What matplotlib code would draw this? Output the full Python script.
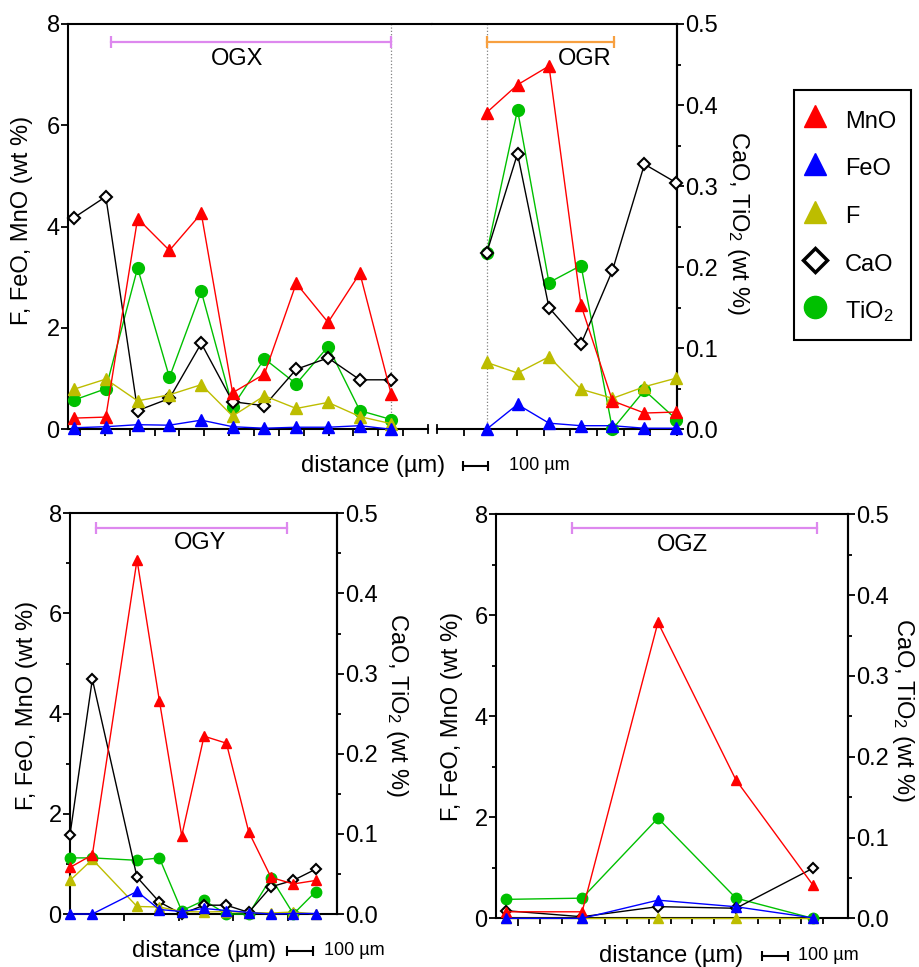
import matplotlib
matplotlib.use('Agg')
import matplotlib.pyplot as plt
from matplotlib.lines import Line2D
from matplotlib.ticker import MultipleLocator, FixedLocator, FormatStrFormatter, NullFormatter

plt.rcParams['font.family'] = ['Liberation Sans', 'DejaVu Sans']
plt.rcParams['mathtext.default'] = 'regular'
plt.rcParams['font.size'] = 17

# right axis (CaO, TiO2) 0.5 wt% sits at 8 wt% of the left axis
SCALE = 16

# ---- OGX (top panel, left part) ----
ogx_dist = [-24, 104, 232, 360, 488, 614, 742, 870, 998, 1126, 1252]
ogx_mno = [0.22, 0.24, 4.16, 3.53, 4.26, 0.72, 1.09, 2.88, 2.11, 3.08, 0.69]
ogx_feo = [0.03, 0.05, 0.09, 0.08, 0.18, 0.05, 0.02, 0.04, 0.04, 0.07, 0.0]
ogx_f = [0.79, 0.99, 0.56, 0.68, 0.88, 0.26, 0.66, 0.41, 0.53, 0.25, 0.11]
ogx_cao = [0.261, 0.287, 0.023, 0.038, 0.106, 0.034, 0.029, 0.074, 0.088, 0.061, 0.061]
ogx_tio2 = [0.036, 0.050, 0.199, 0.064, 0.170, 0.028, 0.087, 0.056, 0.102, 0.023, 0.012]

# ---- OGR (top panel, right part) ----
ogr_dist = [186, 302, 420, 540, 658, 778, 898]
ogr_mno = [6.25, 6.80, 7.17, 2.45, 0.56, 0.32, 0.34]
ogr_feo = [0.0, 0.49, 0.12, 0.07, 0.07, 0.02, 0.02]
ogr_f = [1.32, 1.11, 1.43, 0.79, 0.61, 0.84, 1.01]
ogr_cao = [0.217, 0.340, 0.150, 0.105, 0.196, 0.327, 0.304]
ogr_tio2 = [0.217, 0.394, 0.181, 0.202, 0.0, 0.048, 0.012]

# ---- OGY (bottom left) ----
ogy_dist = [0, 82, 246, 328, 410, 492, 574, 656, 738, 820, 902]
ogy_mno = [0.93, 1.18, 7.07, 4.26, 1.56, 3.55, 3.41, 1.64, 0.73, 0.60, 0.67]
ogy_feo = [0.0, 0.0, 0.45, 0.09, 0.05, 0.11, 0.07, 0.03, 0.0, 0.01, 0.01]
ogy_f = [0.67, 1.09, 0.15, 0.14, 0.05, 0.04, 0.05, 0.03, 0.02, 0.04, 0.0]
ogy_cao = [0.099, 0.293, 0.046, 0.015, 0.0, 0.011, 0.011, 0.002, 0.034, 0.042, 0.056]
ogy_tio2 = [0.070, 0.070, 0.067, 0.070, 0.004, 0.017, 0.0, 0.0, 0.045, 0.0, 0.028]

# ---- OGZ (bottom right) ----
ogz_dist = [-55, 294, 642, 1000, 1353]
ogz_mno = [0.13, 0.13, 5.86, 2.74, 0.66]
ogz_feo = [0.0, 0.0, 0.36, 0.23, 0.01]
ogz_f = [0.0, 0.0, 0.0, 0.0, 0.0]
ogz_cao = [0.0095, 0.002, 0.0145, 0.0125, 0.062]
ogz_tio2 = [0.0235, 0.025, 0.124, 0.025, 0.0]

# zone ranges: (start, end, level, label x, label y)
ogx_range = (124, 1252, 7.65, 632, 7.3)
ogr_range = (187, 664, 7.65, 555, 7.3)
ogy_range = (94, 796, 7.71, 477, 7.4)
ogz_range = (249, 1373, 7.73, 755, 7.39)

RED = '#ff0000'
BLUE = '#0000ff'
YELLOW = '#bdbd00'
GREEN = '#00c000'
VIOLET = '#dd88ee'
ORANGE = '#f7a040'


def plot_profile(ax, dist, mno, feo, f, cao, tio2, ms=8):
    ax.plot(dist, [v * SCALE for v in tio2], color=GREEN, marker='o', ms=ms + 0.5,
            lw=1.0, clip_on=False, zorder=3)
    ax.plot(dist, [v * SCALE for v in cao], color='black', marker='D', mfc='white',
            mec='black', mew=1.5, ms=ms - 1.8, lw=1.0, clip_on=False, zorder=4)
    ax.plot(dist, f, color=YELLOW, marker='^', ms=ms, lw=1.0, clip_on=False, zorder=5)
    ax.plot(dist, mno, color=RED, marker='^', ms=ms, lw=1.0, clip_on=False, zorder=6)
    ax.plot(dist, feo, color=BLUE, marker='^', ms=ms, lw=1.0, clip_on=False, zorder=7)


def style_axes(ax, minor_y=True):
    ax.set_ylim(0, 8)
    for s in ax.spines.values():
        s.set_linewidth(1.5)
    ax.yaxis.set_major_locator(MultipleLocator(2))
    if minor_y:
        ax.yaxis.set_minor_locator(MultipleLocator(1))
    ax.tick_params(axis='y', which='major', length=5, width=1.3, pad=1)
    ax.tick_params(axis='y', which='minor', length=3, width=1.3)
    ax.tick_params(axis='x', which='both', width=1.3, labelbottom=False)


def add_right_axis(ax):
    sec = ax.secondary_yaxis('right', functions=(lambda v: v / SCALE, lambda v: v * SCALE))
    sec.yaxis.set_major_locator(FixedLocator([0, 0.1, 0.2, 0.3, 0.4, 0.5]))
    sec.yaxis.set_minor_locator(MultipleLocator(0.05))
    sec.yaxis.set_major_formatter(FormatStrFormatter('%.1f'))
    sec.spines['right'].set_linewidth(1.5)
    sec.tick_params(which='major', length=5, width=1.3, pad=1)
    sec.tick_params(which='minor', length=3, width=1.3)
    return sec


def right_label(fig, x, y):
    fig.text(x, y, 'CaO, TiO$_2$ (wt %)', rotation=270, ha='center', va='center',
             fontsize=17)


def left_label(ax, label_x, label_y=0.5):
    ax.set_ylabel('F, FeO, MnO (wt %)', va='center', ha='center')
    ax.yaxis.set_label_coords(label_x, label_y)


def range_bar(ax, rng, color, label):
    x0, x1, y, lx, ly = rng
    ax.plot([x0, x1], [y, y], color=color, lw=1.6, marker='|', ms=9, mew=1.6,
            clip_on=False, zorder=2)
    ax.text(lx, ly, label, ha='center', va='center', fontsize=17)


def distance_note(fig, x_text, y, x_bar0, x_bar1, x_100):
    fig.text(x_text, y, 'distance (µm)', ha='center', va='center', fontsize=17)
    fig.add_artist(Line2D([x_bar0, x_bar1], [y, y], transform=fig.transFigure,
                          color='black', lw=1.5, marker='|', ms=7, mew=1.5))
    fig.text(x_100, y, '100 µm', ha='center', va='center', fontsize=13)


fig = plt.figure(figsize=(9.2, 9.67), dpi=100)

# ---------------- top panel (broken x axis) ----------------
top_b, top_h = 0.5561, 0.4191
axL = fig.add_axes([68 / 920, top_b, 364 / 920, top_h])
axR = fig.add_axes([432 / 920, top_b, 245 / 920, top_h])

style_axes(axL, minor_y=False)
style_axes(axR, minor_y=False)

axL.set_xlim(-48, 1416)
axR.set_xlim(-18.7, 900)
axL.spines['right'].set_visible(False)
axR.spines['left'].set_visible(False)
axR.tick_params(axis='y', which='both', left=False, labelleft=False)
axL.spines['bottom'].set_bounds(-48, 1400)
axR.spines['bottom'].set_bounds(0, 900)
axL.xaxis.set_major_locator(FixedLocator(list(range(0, 1400, 100))))
axR.xaxis.set_major_locator(FixedLocator(list(range(100, 1000, 100))))
axL.tick_params(axis='x', length=5)
axR.tick_params(axis='x', length=5)
# break marks
axL.plot([1400, 1400], [-0.08, 0.08], color='black', lw=1.3, clip_on=False)
axR.plot([0, 0], [-0.08, 0.08], color='black', lw=1.3, clip_on=False)

axL.axvline(ogx_dist[-1], color='gray', ls=':', lw=0.9, zorder=1)
axR.axvline(ogr_dist[0], color='gray', ls=':', lw=0.9, zorder=1)

plot_profile(axL, ogx_dist, ogx_mno, ogx_feo, ogx_f, ogx_cao, ogx_tio2, ms=8)
plot_profile(axR, ogr_dist, ogr_mno, ogr_feo, ogr_f, ogr_cao, ogr_tio2, ms=8)
range_bar(axL, ogx_range, VIOLET, 'OGX')
range_bar(axR, ogr_range, ORANGE, 'OGR')

left_label(axL, -0.126, 0.515)
add_right_axis(axR)
right_label(fig, 0.8022, 0.7694)
distance_note(fig, 0.4054, 0.5181, 0.5033, 0.5304, 0.5859)

# ---------------- bottom left (OGY) ----------------
axY = fig.add_axes([70 / 920, 0.0548, 267 / 920, 0.4144])
style_axes(axY)
axY.set_xlim(0, 980)
axY.xaxis.set_major_locator(FixedLocator([200, 400, 600, 800]))
axY.tick_params(axis='x', length=5)
plot_profile(axY, ogy_dist, ogy_mno, ogy_feo, ogy_f, ogy_cao, ogy_tio2, ms=7)
range_bar(axY, ogy_range, VIOLET, 'OGY')
left_label(axY, -0.161, 0.52)
add_right_axis(axY)
right_label(fig, 0.4315, 0.2710)
distance_note(fig, 0.2217, 0.0170, 0.3120, 0.3402, 0.3848)

# ---------------- bottom right (OGZ) ----------------
axZ = fig.add_axes([496 / 920, 0.0503, 352 / 920, 0.4178])
style_axes(axZ)
axZ.set_xlim(-101, 1514)
axZ.xaxis.set_major_locator(FixedLocator([0]))
axZ.xaxis.set_minor_locator(FixedLocator(list(range(100, 1500, 100))))
axZ.xaxis.set_minor_formatter(NullFormatter())
axZ.tick_params(axis='x', which='major', length=6)
axZ.tick_params(axis='x', which='minor', length=4)
plot_profile(axZ, ogz_dist, ogz_mno, ogz_feo, ogz_f, ogz_cao, ogz_tio2, ms=7)
range_bar(axZ, ogz_range, VIOLET, 'OGZ')
left_label(axZ, -0.125, 0.5)
add_right_axis(axZ)
right_label(fig, 0.9815, 0.2658)
distance_note(fig, 0.7293, 0.0114, 0.8283, 0.8565, 0.9)

# ---------------- legend ----------------
handles = [
    Line2D([], [], ls='none', marker='^', color=RED, ms=16),
    Line2D([], [], ls='none', marker='^', color=BLUE, ms=16),
    Line2D([], [], ls='none', marker='^', color=YELLOW, ms=16),
    Line2D([], [], ls='none', marker='D', mfc='white', mec='black', mew=2.5, ms=12),
    Line2D([], [], ls='none', marker='o', color=GREEN, ms=16),
]
labels = ['MnO', 'FeO', 'F', 'CaO', 'TiO$_2$']
leg = fig.legend(handles, labels, loc='upper left', bbox_to_anchor=(794 / 920, 1 - 90 / 967),
                 frameon=True, fancybox=False, framealpha=1, edgecolor='black',
                 fontsize=17, borderpad=0.65, handlelength=0.5, handleheight=1.5,
                 handletextpad=1.0, labelspacing=0.8, borderaxespad=0)
leg.get_frame().set_linewidth(1.5)

fig.savefig('out.png', dpi=100)
